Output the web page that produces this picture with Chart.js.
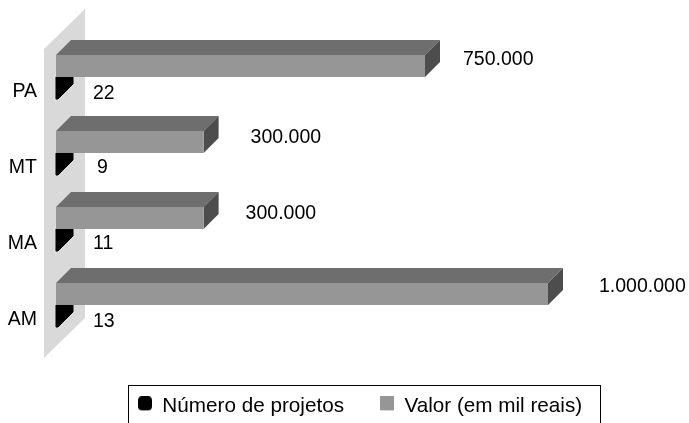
<!DOCTYPE html>
<html>
<head>
<meta charset="utf-8">
<style>html,body{margin:0;padding:0;background:#fff}canvas{display:block}</style>
<script src="https://cdn.jsdelivr.net/npm/chart.js@4"></script>
</head>
<body>
<canvas id="c" width="689" height="423"></canvas>
<script>
const categories = ['PA', 'MT', 'MA', 'AM'];
const numeroProjetos = [22, 9, 11, 13];
const valorMilReais = [750000, 300000, 300000, 1000000];
const valorLabels = ['750.000', '300.000', '300.000', '1.000.000'];
const numeroLabels = ['22', '9', '11', '13'];

const FONT = '"Liberation Sans", Arial, sans-serif';
const labelGaps = { valor: [38, 47, 42, 51], numero: [35, 39, 35, 35] };
const labelRise = { valor: [6, 4, 4, 7], numero: [-6, -4, -4, -6] };

function legendMark(color, radius) {
  const cv = document.createElement('canvas');
  cv.width = 14; cv.height = 20;
  const g = cv.getContext('2d');
  g.fillStyle = color;
  g.beginPath();
  g.roundRect(0, 0, 14, 14, radius);
  g.fill();
  return cv;
}

const shade3d = {
  id: 'shade3d',
  beforeLayout(chart) {
    const l = chart.legend;
    if (!l.__patched) {
      const f = l.fit;
      l.fit = function () { f.call(this); this.height = 80; };
      l.__patched = true;
    }
  },
  beforeDatasetsDraw(chart) {
    const { ctx, chartArea: a } = chart;
    ctx.save();
    ctx.fillStyle = '#d9d9d9';
    ctx.beginPath();
    ctx.moveTo(a.left - 12, a.top + 10);
    ctx.lineTo(a.left + 29, a.top - 30);
    ctx.lineTo(a.left + 29, a.bottom - 25);
    ctx.lineTo(a.left - 12, a.bottom + 15);
    ctx.closePath();
    ctx.fill();
    const d = 15;
    const poly = (pts, color) => {
      ctx.fillStyle = color;
      ctx.beginPath();
      pts.forEach((p, i) => i ? ctx.lineTo(p[0], p[1]) : ctx.moveTo(p[0], p[1]));
      ctx.closePath();
      ctx.fill();
    };
    chart.getDatasetMeta(1).data.forEach(el => {
      const t = el.y - el.height / 2, b = el.y + el.height / 2;
      ctx.fillStyle = '#000';
      ctx.strokeStyle = '#000';
      ctx.lineJoin = 'round';
      ctx.lineWidth = 1;
      ctx.beginPath();
      ctx.moveTo(el.base, t);
      ctx.lineTo(el.x + d, t);
      ctx.lineTo(el.x + d, b - d);
      ctx.lineTo(el.x, b);
      ctx.lineTo(el.base, b);
      ctx.closePath();
      ctx.fill();
      ctx.stroke();
    });
    chart.getDatasetMeta(0).data.forEach(el => {
      const t = el.y - el.height / 2, b = el.y + el.height / 2;
      poly([[el.base, t], [el.base + d, t - d], [el.x + d, t - d], [el.x, t]], '#6e6e6e');
      poly([[el.x, t], [el.x + d, t - d], [el.x + d, b - d], [el.x, b]], '#4d4d4d');
    });
    ctx.restore();
  },
  afterDatasetsDraw(chart) {
    const { ctx } = chart;
    ctx.save();
    ctx.fillStyle = '#000';
    ctx.font = '19.5px ' + FONT;
    ctx.textBaseline = 'middle';
    ctx.textAlign = 'left';
    chart.getDatasetMeta(0).data.forEach((el, i) => {
      ctx.fillText(valorLabels[i], el.x + labelGaps.valor[i], el.y - labelRise.valor[i]);
    });
    chart.getDatasetMeta(1).data.forEach((el, i) => {
      ctx.fillText(numeroLabels[i], el.x + labelGaps.numero[i], el.y - labelRise.numero[i]);
    });
    ctx.restore();
  },
  afterLayout(chart) {
    const l = chart.legend;
    l.left = 102; l.right = 720; l.top = 360; l.bottom = 440;
  },
  beforeDraw(chart) {
    const { ctx } = chart;
    ctx.save();
    ctx.strokeStyle = '#000';
    ctx.lineWidth = 1;
    ctx.strokeRect(128.5, 385.5, 472, 60);
    ctx.restore();
  }
};

new Chart(document.getElementById('c'), {
  type: 'bar',
  data: {
    labels: categories,
    datasets: [
      { label: 'Valor (em mil reais)', data: valorMilReais, backgroundColor: '#969696', pointStyle: legendMark('#969696', 0) },
      { label: 'Número de projetos', data: numeroProjetos, backgroundColor: '#000', pointStyle: legendMark('#000', 4), minBarLength: 2 }
    ]
  },
  options: {
    indexAxis: 'y',
    responsive: false,
    animation: false,
    layout: { padding: { left: 0, right: 141, top: 39, bottom: 0 } },
    datasets: { bar: { categoryPercentage: 44 / 76, barPercentage: 1, borderWidth: 0 } },
    scales: {
      x: { display: false, min: 0, max: 1000000 },
      y: {
        afterFit(s) { s.width = 56; },
        grid: { display: false, drawTicks: false },
        border: { display: false },
        ticks: { color: '#000', padding: 19, labelOffset: 15, font: { family: FONT, size: 19.5 } }
      }
    },
    plugins: {
      tooltip: { enabled: false },
      legend: {
        position: 'bottom',
        align: 'start',
        reverse: true,
        labels: {
          usePointStyle: true,
          boxWidth: 14, boxHeight: 14,
          padding: 36,
          color: '#000',
          font: { family: FONT, size: 20.7 },
          generateLabels(chart) {
            return chart.data.datasets.map((ds, i) => ({
              text: ds.label, fillStyle: ds.backgroundColor, strokeStyle: ds.backgroundColor,
              lineWidth: 0, pointStyle: ds.pointStyle, datasetIndex: i, hidden: false
            }));
          }
        }
      }
    }
  },
  plugins: [shade3d]
});
</script>
</body>
</html>
